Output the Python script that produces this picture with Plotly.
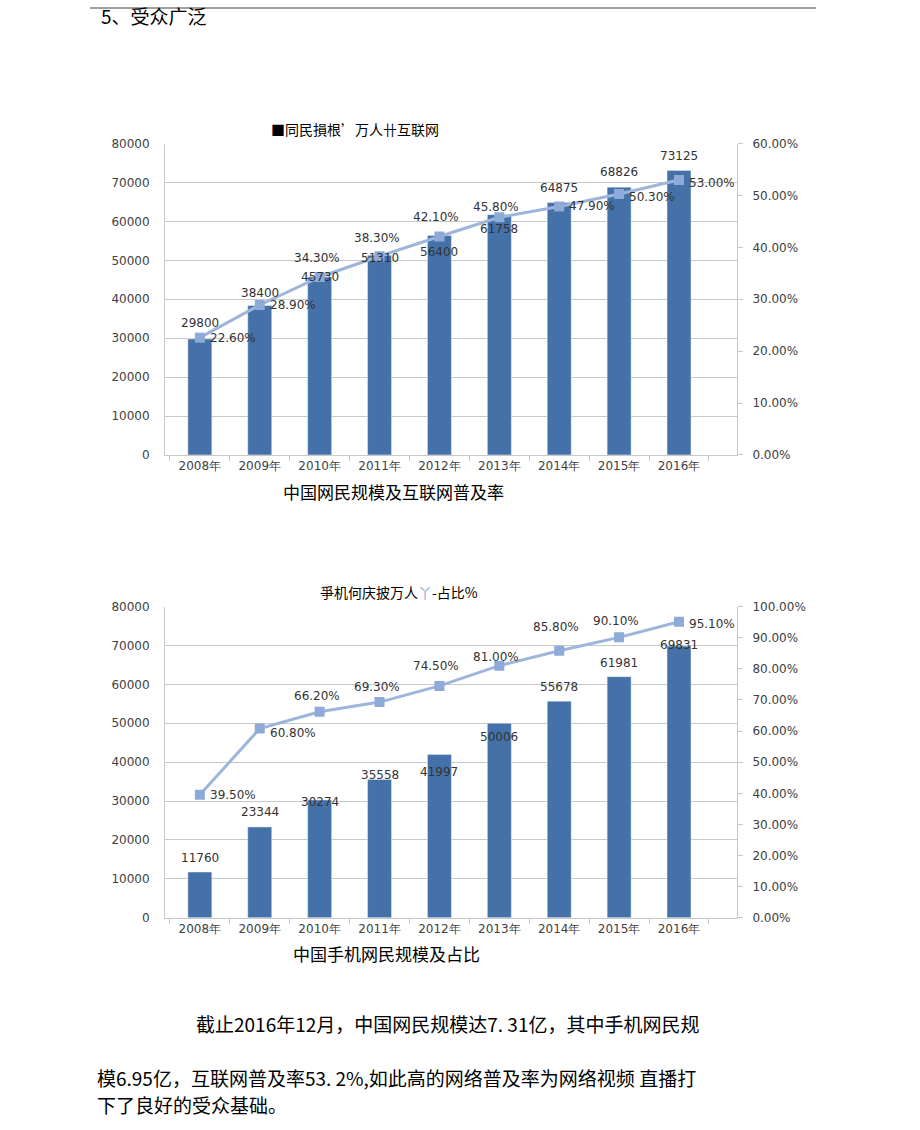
import plotly.graph_objects as go

# 数据
years = ["2008年", "2009年", "2010年", "2011年", "2012年", "2013年", "2014年", "2015年", "2016年"]
netizens = [29800, 38400, 45730, 51310, 56400, 61758, 64875, 68826, 73125]
net_rate = [22.6, 28.9, 34.3, 38.3, 42.1, 45.8, 47.9, 50.3, 53.0]
mobile = [11760, 23344, 30274, 35558, 41997, 50006, 55678, 61981, 69831]
mobile_rate = [39.5, 60.8, 66.2, 69.3, 74.5, 81.0, 85.8, 90.1, 95.1]

BAR = "#4472A8"
LINE = "#9DB5DB"
MARK = "#8EAAD8"
GRID = "#C8C8C8"
TXT = "#333333"
NUM_FONT = "DejaVu Sans"
CJK = "Noto Sans CJK SC"

W, H = 920, 1130


# 参考图像素坐标 -> 纸面坐标 (含一点经验修正)
def fx(x):
    return (x - 2) / W


def fy(y):
    return 1 - max(y - 6, 0) / 0.99 / H


# 标签偏移 (像素, 向上为正)
bar_dy1 = [16, 13, 0, -3, -17, -14, 15, 15, 14]
bar_dy2 = [14, 15, -2, 4, -18, -14, 14, 14, 1]
# 折线标签: ("r", dy) 在右侧, ("u", dy) 在上方
pct_pos1 = [("r", 0), ("r", 0), ("u", 19), ("u", 18), ("u", 20), ("u", 10), ("r", 0), ("r", -3), ("r", -3)]
pct_pos2 = [("r", 0), ("r", -4), ("u", 16), ("u", 15), ("u", 20), ("u", 9), ("u", 24), ("u", 16), ("r", -2)]

fig = go.Figure()

fig.add_trace(go.Bar(x=years, y=netizens, marker_color=BAR, width=0.4,
                     xaxis="x", yaxis="y", showlegend=False))
fig.add_trace(go.Scatter(x=years, y=net_rate, mode="lines+markers",
                         line=dict(color=LINE, width=3),
                         marker=dict(symbol="square", size=10, color=MARK),
                         xaxis="x", yaxis="y2", showlegend=False))
fig.add_trace(go.Bar(x=years, y=mobile, marker_color=BAR, width=0.4,
                     xaxis="x3", yaxis="y3", showlegend=False))
fig.add_trace(go.Scatter(x=years, y=mobile_rate, mode="lines+markers",
                         line=dict(color=LINE, width=3),
                         marker=dict(symbol="square", size=10, color=MARK),
                         xaxis="x3", yaxis="y4", showlegend=False))

xdom = [fx(167), fx(739)]
dom1 = [fy(455), fy(143)]
dom2 = [fy(919), fy(607)]

tickfont = dict(family=NUM_FONT, size=12, color="#404040")


def xax(anchor):
    return dict(domain=xdom, anchor=anchor, type="category", showline=True,
                linecolor=GRID, linewidth=1, ticks="outside", tickson="boundaries",
                ticklen=5, tickcolor=GRID, tickfont=tickfont, showgrid=False)


def yleft(anchor, dom):
    return dict(domain=dom, anchor=anchor, range=[0, 80000], dtick=10000,
                tickformat="d", showline=True, linecolor=GRID, linewidth=1,
                gridcolor=GRID, gridwidth=1, zeroline=False, tickfont=tickfont,
                ticks="", ticklabelstandoff=12)


def yright(anchor, over, rmax):
    return dict(anchor=anchor, overlaying=over, side="right", range=[0, rmax],
                dtick=10, tickformat=".2f", ticksuffix="%", showline=True,
                linecolor=GRID, linewidth=1, ticks="outside", ticklen=5,
                tickcolor=GRID, showgrid=False, zeroline=False, tickfont=tickfont,
                ticklabelstandoff=7)


fig.update_layout(
    width=W, height=H,
    margin=dict(l=0, r=0, t=0, b=0),
    paper_bgcolor="white", plot_bgcolor="white",
    xaxis=xax("y"),
    yaxis=yleft("x", dom1),
    yaxis2=yright("x", "y", 60),
    xaxis3=xax("y3"),
    yaxis3=yleft("x3", dom2),
    yaxis4=yright("x3", "y3", 100),
)

ann = []
lab_font = dict(family=NUM_FONT, size=12, color=TXT)

for xa, ya, vals, dys in [("x", "y", netizens, bar_dy1), ("x3", "y3", mobile, bar_dy2)]:
    for c, v, dy in zip(years, vals, dys):
        ann.append(dict(x=c, y=v, xref=xa, yref=ya, text=str(v), showarrow=False,
                        yshift=dy, font=lab_font))

for xa, ya, vals, pos in [("x", "y2", net_rate, pct_pos1), ("x3", "y4", mobile_rate, pct_pos2)]:
    for c, v, (side, dy) in zip(years, vals, pos):
        if side == "r":
            ann.append(dict(x=c, y=v, xref=xa, yref=ya, text=f"{v:.2f}%", showarrow=False,
                            xanchor="left", xshift=8, yshift=dy, font=lab_font))
        else:
            ann.append(dict(x=c, y=v, xref=xa, yref=ya, text=f"{v:.2f}%", showarrow=False,
                            xanchor="center", xshift=-3, yshift=dy, font=lab_font))


def px_text(x, y, text, size, anchor="left", color="black"):
    ann.append(dict(x=fx(x), y=fy(y), xref="paper", yref="paper", text=text,
                    showarrow=False, xanchor=anchor, yanchor="middle",
                    font=dict(family=CJK, size=size, color=color)))


px_text(101, 15, "5、受众广泛", 19)
px_text(357, 128, "■同民損根’万人卄互联网", 14, "center")
px_text(395, 492, "中国网民规模及互联网普及率", 17, "center")
px_text(401, 592, "爭机何庆披万人<span style='color:#8EAAD8'>丫</span>-占比%", 14, "center")
px_text(388, 955, "中国手机网民规模及占比", 17, "center")
px_text(196, 1025, "截止2016年12月，中国网民规模达7. 31亿，其中手机网民规", 19)
px_text(97, 1079, "模6.95亿，互联网普及率53. 2%,如此高的网络普及率为网络视频 直播打", 19)
px_text(97, 1106, "下了良好的受众基础。", 19)

fig.update_layout(annotations=ann)
fig.add_shape(type="line", xref="paper", yref="paper", x0=fx(92), x1=fx(818),
              y0=1 - 1 / H, y1=1 - 1 / H, line=dict(color="#A0A0A0", width=2))

# 去掉页面默认边距, 让图贴齐窗口
fig.write_html("out.html", config={"displayModeBar": False},
               post_script="document.body.style.margin='0px';")
